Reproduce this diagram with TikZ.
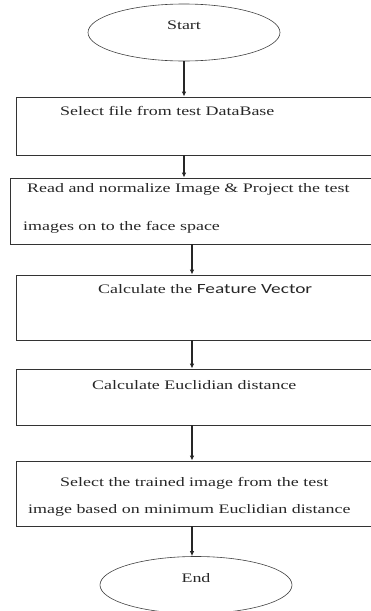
\documentclass[tikz,border=0pt]{standalone}
\usepackage{fontspec}
\setmainfont{Liberation Serif}[FakeStretch = 1.38]
\setsansfont{Carlito}[FakeStretch = 1.38]
\usetikzlibrary{
    shapes.geometric,
    arrows.meta,
    calc
}
\tikzset {
    step box/.style = {draw = black!80, line width = 0.8pt, rectangle, inner sep = 0pt},
    terminal/.style = {draw = black!75, line width = 0.6pt, ellipse, inner sep = 0pt,
        minimum width = 192pt, minimum height = 57pt},
    label text/.style = {anchor = west, inner sep = 0pt, text = black!85,
        font = \fontsize{13}{15}\selectfont},
    flow/.style = {draw = black!85, line width = 1.1pt,
        arrows = {-Latex[length = 5pt, width = 4.5pt]}}
}

\begin{document}
\begin{tikzpicture}[x = 1pt, y = -1pt]
    \useasboundingbox (0, 0) rectangle (371, 611);
    \clip (0, 0) rectangle (371, 611);
    \coordinate (ax) at (192, 0);
    % terminals
    \node (start) [terminal] at (184, 32.5) {};
    \node (end) [terminal] at (196, 585) {};
    \node (ts) [label text, anchor = center] at (184, 25) {Start};
    \node (te) [label text, anchor = center] at (196, 578) {End};
    % process boxes
    \node (box1) [step box, minimum width = 364pt, minimum height = 58pt] at (198, 126) {};
    \node (box2) [step box, minimum width = 370pt, minimum height = 66pt] at (195, 211) {};
    \node (box3) [step box, minimum width = 364pt, minimum height = 65pt] at (198, 307.5) {};
    \node (box4) [step box, minimum width = 364pt, minimum height = 56pt] at (198, 397) {};
    \node (box5) [step box, minimum width = 364pt, minimum height = 65pt] at (198, 493.5) {};
    \node (t1) [label text] at (60, 111) {Select file from test DataBase};
    \node (t2a) [label text] at (27, 189) {Read and normalize Image \& Project the test};
    \node (t2b) [label text] at (23, 227) {images on to the face space};
    \node (t3) [label text] at (98, 289) {Calculate the {\sffamily\fontsize{14}{16}\selectfont Feature Vector}};
    \node (t4) [label text] at (92, 385) {Calculate Euclidian distance};
    \node (t5a) [label text] at (60, 483) {Select the trained image from the test};
    \node (t5b) [label text] at (28, 510) {image based on minimum Euclidian distance};
    % arrows
    \draw [flow] (start.south) -- (start.south |- box1.north);
    \draw [flow] (box1.south -| start) -- (box2.north -| start);
    \draw [flow] (box2.south -| ax) -- (box3.north -| ax);
    \draw [flow] (box3.south -| ax) -- (box4.north -| ax);
    \draw [flow] (box4.south -| ax) -- (box5.north -| ax);
    \draw [flow] (box5.south -| ax) -- (end.north -| ax);
\end{tikzpicture}
\end{document}
